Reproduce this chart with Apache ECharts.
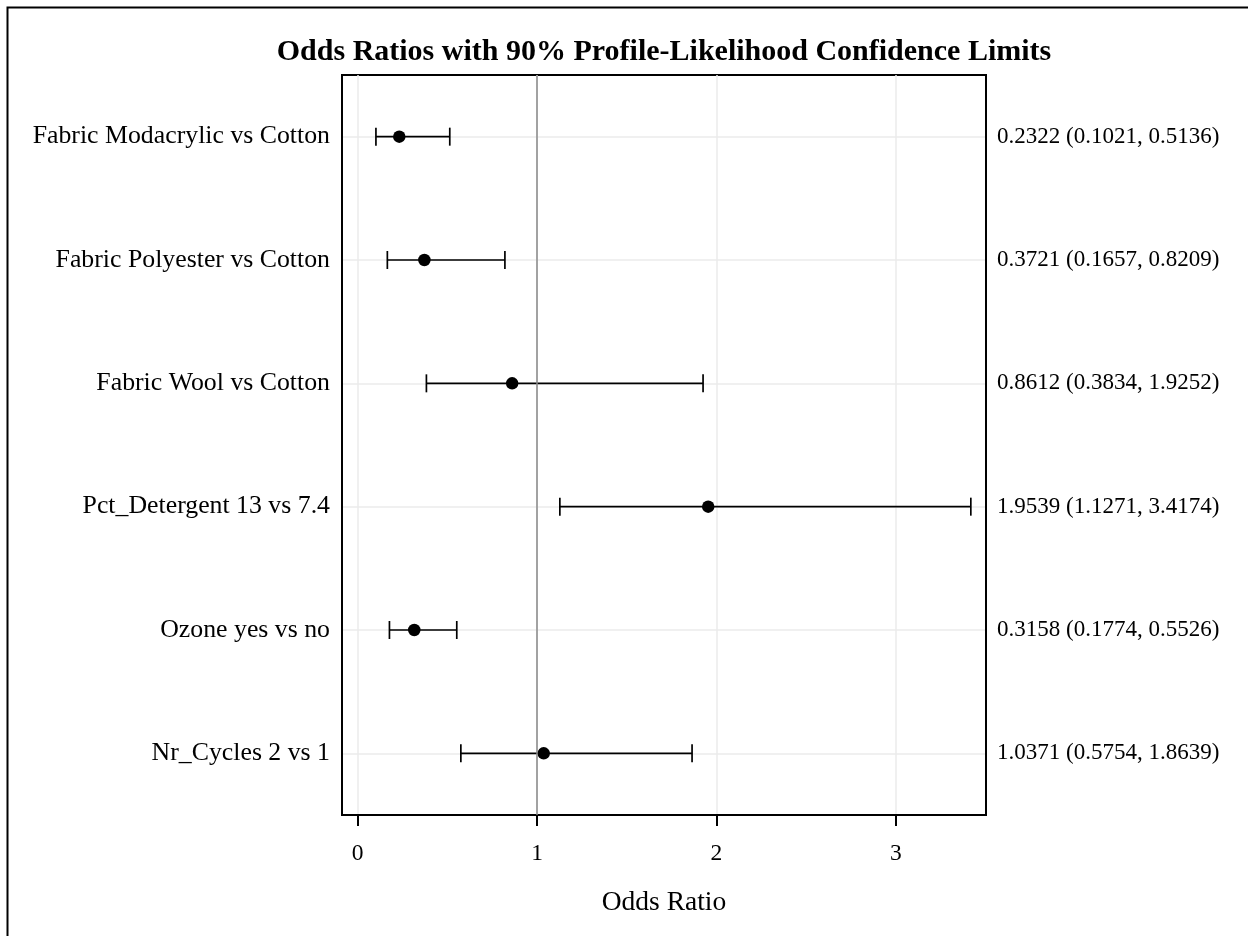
<!DOCTYPE html>
<html>
<head>
<meta charset="UTF-8">
<title>Odds Ratios</title>
<script src="https://cdn.jsdelivr.net/npm/echarts@6/dist/echarts.min.js"></script>
</head>
<body style="margin:0;background:#fff">
<div id="main" style="width:1248px;height:936px"></div>
<script>
// effects, top to bottom
var effects = ['Fabric Modacrylic vs Cotton', 'Fabric Polyester vs Cotton', 'Fabric Wool vs Cotton',
               'Pct_Detergent 13 vs 7.4', 'Ozone yes vs no', 'Nr_Cycles 2 vs 1'];
var estimate = [0.2322, 0.3721, 0.8612, 1.9539, 0.3158, 1.0371];
var lowerCL  = [0.1021, 0.1657, 0.3834, 1.1271, 0.1774, 0.5754];
var upperCL  = [0.5136, 0.8209, 1.9252, 3.4174, 0.5526, 1.8639];
var xTicks = [0, 1, 2, 3];
var refValue = 1;

// right-hand text: estimate (lower, upper)
var ciText = estimate.map(function (v, i) {
    return v.toFixed(4) + ' (' + lowerCL[i].toFixed(4) + ', ' + upperCL[i].toFixed(4) + ')';
});

var font = '"Liberation Serif", "Times New Roman", serif';
var myChart = echarts.init(document.getElementById('main'));

var option = {
    animation: false,
    backgroundColor: '#fff',
    title: {
        text: 'Odds Ratios with 90% Profile-Likelihood Confidence Limits',
        left: 664,
        top: 37,
        textAlign: 'center',
        padding: 0,
        textStyle: { fontFamily: font, fontWeight: 'bold', fontSize: 30, color: '#000' }
    },
    graphic: [{
        type: 'rect',
        silent: true,
        shape: { x: 7.5, y: 7.5, width: 1300, height: 1300 },
        style: { fill: 'none', stroke: '#000', lineWidth: 2 }
    }],
    grid: {
        left: 342, top: 75, right: 262, bottom: 121,
        show: true, borderColor: '#000', borderWidth: 2, backgroundColor: 'transparent'
    },
    xAxis: {
        type: 'value',
        min: -0.087,
        max: 3.502,
        minInterval: 1,
        maxInterval: 1,
        name: 'Odds Ratio',
        nameLocation: 'middle',
        nameGap: 74,
        nameTextStyle: { fontFamily: font, fontSize: 27.5, color: '#000' },
        axisLine: { show: true, onZero: false, lineStyle: { color: '#000', width: 2 } },
        axisTick: { show: true, customValues: xTicks, length: 11, lineStyle: { color: '#000', width: 2 } },
        axisLabel: { customValues: xTicks, fontFamily: font, fontSize: 23.5, color: '#000', margin: 27 },
        splitLine: { show: true, lineStyle: { color: '#ebebeb', width: 1.5 } }
    },
    yAxis: [{
        type: 'category',
        data: effects,
        inverse: true,
        axisLine: { show: true, onZero: false, lineStyle: { color: '#000', width: 2 } },
        axisTick: { show: false },
        axisLabel: { fontFamily: font, fontSize: 25.8, color: '#000', margin: 12 },
        splitLine: { show: true, alignWithLabel: true, lineStyle: { color: '#ebebeb', width: 1.5 } }
    }, {
        type: 'category',
        data: ciText,
        inverse: true,
        position: 'right',
        axisLine: { show: true, onZero: false, lineStyle: { color: '#000', width: 2 } },
        axisTick: { show: false },
        axisLabel: { fontFamily: font, fontSize: 23, color: '#000', margin: 11 },
        splitLine: { show: false }
    }],
    series: [{
        // confidence limits with caps
        type: 'custom',
        yAxisIndex: 0,
        z: 3,
        silent: true,
        data: effects.map(function (e, i) { return [lowerCL[i], upperCL[i], i]; }),
        encode: { x: [0, 1], y: 2 },
        renderItem: function (params, api) {
            var y = api.value(2);
            var p1 = api.coord([api.value(0), y]);
            var p2 = api.coord([api.value(1), y]);
            var h = 9;
            var st = { stroke: '#000', lineWidth: 1.7 };
            return {
                type: 'group',
                children: [
                    { type: 'line', shape: { x1: p1[0], y1: p1[1], x2: p2[0], y2: p2[1] }, style: st },
                    { type: 'line', shape: { x1: p1[0], y1: p1[1] - h, x2: p1[0], y2: p1[1] + h }, style: st },
                    { type: 'line', shape: { x1: p2[0], y1: p2[1] - h, x2: p2[0], y2: p2[1] + h }, style: st }
                ]
            };
        }
    }, {
        // point estimates
        type: 'scatter',
        yAxisIndex: 0,
        z: 4,
        silent: true,
        symbol: 'circle',
        symbolSize: 12.5,
        itemStyle: { color: '#000', opacity: 1 },
        data: effects.map(function (e, i) { return [estimate[i], i]; }),
        markLine: {
            silent: true,
            symbol: 'none',
            label: { show: false },
            lineStyle: { color: '#888', width: 1.5, type: 'solid', opacity: 1 },
            data: [{ xAxis: refValue }]
        }
    }]
};
myChart.setOption(option);
</script>
</body>
</html>
